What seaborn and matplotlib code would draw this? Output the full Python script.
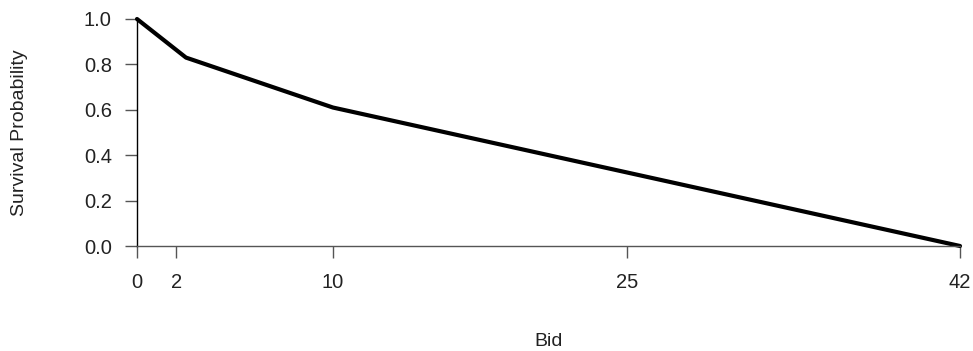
import matplotlib
matplotlib.use("Agg")
import matplotlib.pyplot as plt
import seaborn as sns
import pandas as pd

# Survival curve: probability of staying in the auction at each bid level
bid = [0, 2.5, 10, 42]
survival = [1.0, 0.83, 0.61, 0.0]
x_ticks = [0, 2, 10, 25, 42]
y_ticks = [0.0, 0.2, 0.4, 0.6, 0.8, 1.0]

sns.set_style("white")
plt.rcParams["font.family"] = ["Liberation Sans", "DejaVu Sans"]

df = pd.DataFrame({"Bid": bid, "Survival Probability": survival})

fig = plt.figure(figsize=(9.73, 3.51), dpi=100)
ax = fig.add_axes([137 / 973, 1 - 246 / 351, (960 - 137) / 973, (246 - 19) / 351])

sns.lineplot(data=df, x="Bid", y="Survival Probability", ax=ax,
             color="black", linewidth=3.0, clip_on=False)

ax.set_xlim(0, 42)
ax.set_ylim(0, 1)
ax.set_xticks(x_ticks)
ax.set_xticklabels([str(t) for t in x_ticks])
ax.set_yticks(y_ticks)
ax.set_yticklabels([f"{t:.1f}" for t in y_ticks])

for side in ("top", "right"):
    ax.spines[side].set_visible(False)
ax.spines["left"].set_color("black")
ax.spines["left"].set_linewidth(1.0)
ax.spines["bottom"].set_color("#555555")
ax.spines["bottom"].set_linewidth(1.0)

ax.tick_params(axis="both", which="major", bottom=True, left=True,
               direction="out", length=8.6, width=1.0,
               color="#555555", labelsize=14.5, labelcolor="#222222")
ax.tick_params(axis="x", pad=10.5)
ax.tick_params(axis="y", pad=9.5)

ax.set_xlabel("Bid", fontsize=14, color="#222222")
ax.set_ylabel("Survival Probability", fontsize=14, color="#222222")
ax.xaxis.set_label_coords(0.5, -0.385)
ax.yaxis.set_label_coords(-0.1325, 0.5)

fig.savefig("out.png", dpi=100)
